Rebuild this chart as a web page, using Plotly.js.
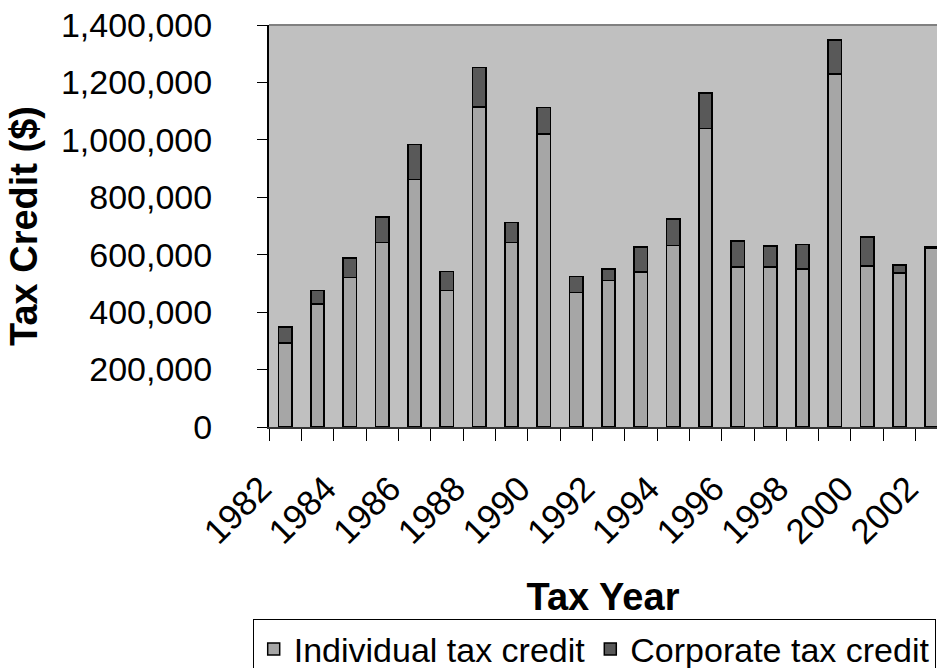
<!DOCTYPE html>
<html>
<head>
<meta charset="utf-8">
<script src="https://cdn.plot.ly/plotly-3.0.1.min.js"></script>
<style>
  html, body { margin: 0; padding: 0; background: #fff; }
  #chart { width: 937px; height: 668px; }
</style>
</head>
<body>
<div id="chart"></div>
<script>
// ---- Data ----
const years = [1982, 1983, 1984, 1985, 1986, 1987, 1988, 1989, 1990, 1991, 1992,
               1993, 1994, 1995, 1996, 1997, 1998, 1999, 2000, 2001, 2002];
const individualCredit = [292000, 428000, 520000, 642000, 862000, 475000, 1115000,
                          642000, 1020000, 469000, 511000, 539000, 632000, 1039000,
                          557000, 558000, 551000, 1230000, 561000, 537000, 621000];
const corporateCredit = [56000, 47000, 69000, 90000, 121000, 66000, 137000,
                         70000, 93000, 55000, 40000, 88000, 93000, 125000,
                         90000, 72000, 84000, 117000, 101000, 27000, 6000];
const labelYears = years.filter(y => y % 2 === 0);
const yTicks = [0, 200000, 400000, 600000, 800000, 1000000, 1200000, 1400000];

const FONT = 'Arial, "Liberation Sans", sans-serif';

const traces = [
  {
    type: 'bar', name: 'Individual tax credit', x: years, y: individualCredit,
    marker: { color: '#a6a6a6', line: { color: '#000000', width: 1.5 } },
    hoverinfo: 'x+y'
  },
  {
    type: 'bar', name: 'Corporate tax credit', x: years, y: corporateCredit,
    marker: { color: '#595959', line: { color: '#000000', width: 1.5 } },
    hoverinfo: 'x+y'
  }
];

const boundaries = years.map(y => y - 0.5).concat([years[years.length - 1] + 0.5]);

const layout = {
  width: 937, height: 668,
  margin: { l: 269, r: 0, t: 25, b: 241, pad: 0, autoexpand: false },
  paper_bgcolor: '#ffffff',
  plot_bgcolor: '#c0c0c0',
  barmode: 'stack',
  bargap: 0.59,
  font: { family: FONT, color: '#000000' },
  showlegend: true,
  xaxis: {
    range: [1981.5, 2002.16],
    tickmode: 'array',
    tickvals: labelYears,
    ticktext: labelYears.map(String),
    tickangle: -45,
    ticks: '',
    tickfont: { family: FONT, size: 35, color: '#000000' },
    ticklabelshift: -24,
    ticklabelstandoff: 25,
    ticklabeloverflow: 'allow',
    minor: { tickmode: 'array', tickvals: boundaries, ticks: 'outside', ticklen: 12, tickwidth: 1, tickcolor: '#000000', showgrid: false },
    showline: true, linecolor: '#333333', linewidth: 2,
    showgrid: false, zeroline: false, fixedrange: true,
    title: { text: 'Tax Year', font: { family: FONT, size: 38, weight: 'bold', color: '#000000' }, standoff: 34 }
  },
  yaxis: {
    range: [0, 1400000],
    tickmode: 'array',
    tickvals: yTicks,
    tickformat: ',d',
    ticks: 'outside', ticklen: 10, tickwidth: 1, tickcolor: '#000000',
    tickfont: { family: FONT, size: 34, color: '#000000' },
    ticklabelstandoff: 38,
    showline: true, linecolor: '#000000', linewidth: 2,
    showgrid: false, zeroline: false, fixedrange: true,
    title: { text: 'Tax Credit ($)', font: { family: FONT, size: 38, weight: 'bold', color: '#000000' }, standoff: 12 }
  },
  legend: {
    orientation: 'h',
    x: -0.0244, xanchor: 'left',
    y: -0.4786, yanchor: 'top',
    bgcolor: '#ffffff',
    bordercolor: '#000000', borderwidth: 1,
    font: { family: FONT, size: 34, color: '#000000' },
    traceorder: 'normal'
  },
  shapes: [
    { type: 'line', xref: 'paper', yref: 'paper', x0: 0, x1: 1, y0: 1, y1: 1,
      line: { color: '#808080', width: 2 } }
  ]
};

Plotly.newPlot('chart', traces, layout, { displayModeBar: false, staticPlot: true });
</script>
</body>
</html>
